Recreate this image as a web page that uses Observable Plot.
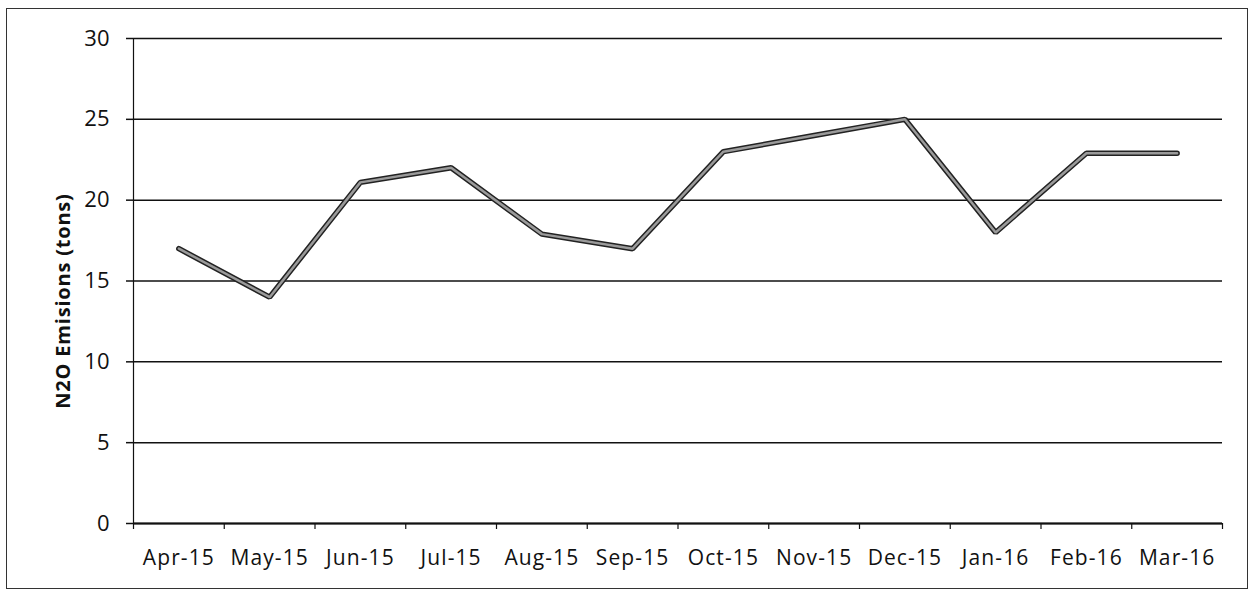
<!DOCTYPE html>
<html>
<head>
<meta charset="utf-8">
<script src="https://cdn.jsdelivr.net/npm/d3@7"></script>
<script src="https://cdn.jsdelivr.net/npm/@observablehq/plot@0.6"></script>
<style>
  html, body { margin: 0; padding: 0; background: #fff; }
  #wrap { position: relative; width: 1252px; height: 593px; overflow: hidden; }
  #border { position: absolute; left: 6px; top: 8px; width: 1240px; height: 579px; border: 1.5px solid #333; pointer-events: none; }
  svg { font-family: "Open Sans", sans-serif; }
</style>
</head>
<body>
<div id="wrap"><div id="border"></div></div>
<script>
const months = ["Apr-15","May-15","Jun-15","Jul-15","Aug-15","Sep-15","Oct-15","Nov-15","Dec-15","Jan-16","Feb-16","Mar-16"];
const emissions = [17, 14, 21.1, 22, 17.9, 17, 23, 24, 25, 18, 22.9, 22.9];
const yTicks = [0, 5, 10, 15, 20, 25, 30];
const yLabel = "N2O Emisions (tons)";

const data = months.map((m, i) => ({i, month: m, value: emissions[i]}));
const idx = months.map((m, i) => i);
const bounds = [-0.5, ...idx.map(i => i + 0.5)];

const chart = Plot.plot({
  width: 1252,
  height: 593,
  marginLeft: 133,
  marginRight: 30,
  marginTop: 38,
  marginBottom: 70,
  style: {fontFamily: "'Open Sans', sans-serif", color: "#111", background: "transparent"},
  x: {type: "linear", domain: [-0.5, months.length - 0.5]},
  y: {domain: [0, 30]},
  marks: [
    Plot.gridY(yTicks, {stroke: "#111", strokeOpacity: 1, strokeWidth: 1.5}),
    Plot.axisY(yTicks, {tickSize: 7, tickPadding: 17, stroke: "#111", strokeWidth: 1.5, fontSize: 22, label: null, fill: "#111"}),
    Plot.text([yLabel], {frameAnchor: "left", textAnchor: "middle", rotate: -90, dx: -70, dy: 20, fontSize: 20, fontWeight: "bold", fill: "#111"}),
    Plot.axisX(idx, {tickSize: 0, tickPadding: 27, tickFormat: i => months[i], fontSize: 21, label: null, fill: "#111"}),
    Plot.axisX(bounds, {tickSize: 6, tickFormat: () => "", stroke: "#111", strokeWidth: 1.2, label: null}),
    Plot.ruleX([-0.5], {stroke: "#111", strokeWidth: 1.2}),
    Plot.ruleY([0], {stroke: "#111", strokeWidth: 2}),
    Plot.line(data, {x: "i", y: "value", stroke: "#222", strokeWidth: 5.5, strokeLinejoin: "miter"}),
    Plot.line(data, {x: "i", y: "value", stroke: "#9a9a9a", strokeWidth: 2.5, strokeLinejoin: "miter"})
  ]
});
d3.select(chart).selectAll('g[aria-label="x-axis tick label"]').style("letter-spacing", "1.1px");
d3.select(chart).selectAll('g[aria-label="text"]').style("letter-spacing", "0.8px");
document.getElementById("wrap").prepend(chart);
</script>
</body>
</html>
